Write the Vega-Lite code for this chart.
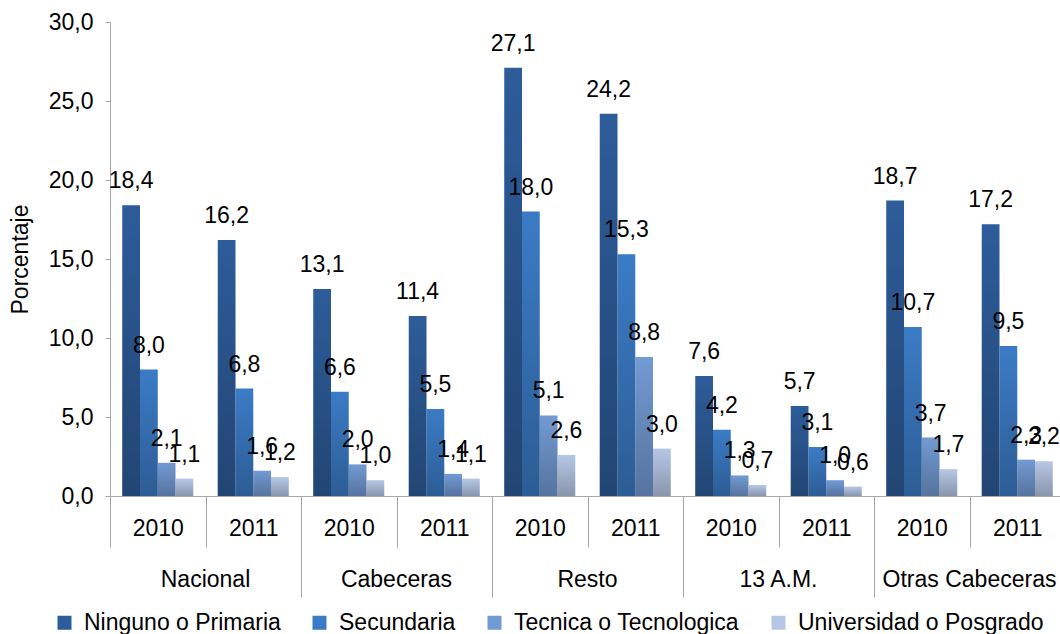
{
  "$schema": "https://vega.github.io/schema/vega-lite/v6.json",
  "padding": {"left": 9, "top": 11, "right": 0, "bottom": 0},
  "bounds": "flush",
  "config": {
    "locale": {"number": {"decimal": ",", "thousands": ".", "grouping": [3], "currency": ["", ""]}},
    "view": {"stroke": null},
    "font": "Liberation Sans"
  },
  "data": {"values": [
    {"grupo": "Nacional", "anio": "2010", "serie": "Ninguno o Primaria", "valor": 18.4},
    {"grupo": "Nacional", "anio": "2010", "serie": "Secundaria", "valor": 8.0},
    {"grupo": "Nacional", "anio": "2010", "serie": "Tecnica o Tecnologica", "valor": 2.1},
    {"grupo": "Nacional", "anio": "2010", "serie": "Universidad o Posgrado", "valor": 1.1},
    {"grupo": "Nacional", "anio": "2011", "serie": "Ninguno o Primaria", "valor": 16.2},
    {"grupo": "Nacional", "anio": "2011", "serie": "Secundaria", "valor": 6.8},
    {"grupo": "Nacional", "anio": "2011", "serie": "Tecnica o Tecnologica", "valor": 1.6},
    {"grupo": "Nacional", "anio": "2011", "serie": "Universidad o Posgrado", "valor": 1.2},
    {"grupo": "Cabeceras", "anio": "2010", "serie": "Ninguno o Primaria", "valor": 13.1},
    {"grupo": "Cabeceras", "anio": "2010", "serie": "Secundaria", "valor": 6.6},
    {"grupo": "Cabeceras", "anio": "2010", "serie": "Tecnica o Tecnologica", "valor": 2.0},
    {"grupo": "Cabeceras", "anio": "2010", "serie": "Universidad o Posgrado", "valor": 1.0},
    {"grupo": "Cabeceras", "anio": "2011", "serie": "Ninguno o Primaria", "valor": 11.4},
    {"grupo": "Cabeceras", "anio": "2011", "serie": "Secundaria", "valor": 5.5},
    {"grupo": "Cabeceras", "anio": "2011", "serie": "Tecnica o Tecnologica", "valor": 1.4},
    {"grupo": "Cabeceras", "anio": "2011", "serie": "Universidad o Posgrado", "valor": 1.1},
    {"grupo": "Resto", "anio": "2010", "serie": "Ninguno o Primaria", "valor": 27.1},
    {"grupo": "Resto", "anio": "2010", "serie": "Secundaria", "valor": 18.0},
    {"grupo": "Resto", "anio": "2010", "serie": "Tecnica o Tecnologica", "valor": 5.1},
    {"grupo": "Resto", "anio": "2010", "serie": "Universidad o Posgrado", "valor": 2.6},
    {"grupo": "Resto", "anio": "2011", "serie": "Ninguno o Primaria", "valor": 24.2},
    {"grupo": "Resto", "anio": "2011", "serie": "Secundaria", "valor": 15.3},
    {"grupo": "Resto", "anio": "2011", "serie": "Tecnica o Tecnologica", "valor": 8.8},
    {"grupo": "Resto", "anio": "2011", "serie": "Universidad o Posgrado", "valor": 3.0},
    {"grupo": "13 A.M.", "anio": "2010", "serie": "Ninguno o Primaria", "valor": 7.6},
    {"grupo": "13 A.M.", "anio": "2010", "serie": "Secundaria", "valor": 4.2},
    {"grupo": "13 A.M.", "anio": "2010", "serie": "Tecnica o Tecnologica", "valor": 1.3},
    {"grupo": "13 A.M.", "anio": "2010", "serie": "Universidad o Posgrado", "valor": 0.7},
    {"grupo": "13 A.M.", "anio": "2011", "serie": "Ninguno o Primaria", "valor": 5.7},
    {"grupo": "13 A.M.", "anio": "2011", "serie": "Secundaria", "valor": 3.1},
    {"grupo": "13 A.M.", "anio": "2011", "serie": "Tecnica o Tecnologica", "valor": 1.0},
    {"grupo": "13 A.M.", "anio": "2011", "serie": "Universidad o Posgrado", "valor": 0.6},
    {"grupo": "Otras Cabeceras", "anio": "2010", "serie": "Ninguno o Primaria", "valor": 18.7},
    {"grupo": "Otras Cabeceras", "anio": "2010", "serie": "Secundaria", "valor": 10.7},
    {"grupo": "Otras Cabeceras", "anio": "2010", "serie": "Tecnica o Tecnologica", "valor": 3.7},
    {"grupo": "Otras Cabeceras", "anio": "2010", "serie": "Universidad o Posgrado", "valor": 1.7},
    {"grupo": "Otras Cabeceras", "anio": "2011", "serie": "Ninguno o Primaria", "valor": 17.2},
    {"grupo": "Otras Cabeceras", "anio": "2011", "serie": "Secundaria", "valor": 9.5},
    {"grupo": "Otras Cabeceras", "anio": "2011", "serie": "Tecnica o Tecnologica", "valor": 2.3},
    {"grupo": "Otras Cabeceras", "anio": "2011", "serie": "Universidad o Posgrado", "valor": 2.2}
  ]},
  "spacing": 0,
  "facet": {
    "column": {
      "field": "grupo", "type": "nominal",
      "sort": ["Nacional", "Cabeceras", "Resto", "13 A.M.", "Otras Cabeceras"],
      "header": {"title": null, "labelOrient": "bottom", "labelFontSize": 23, "labelFont": "Liberation Sans", "labelColor": "#000", "labelPadding": -29}
    }
  },
  "spec": {
    "width": 191,
    "height": 474,
    "encoding": {
      "x": {
        "field": "anio", "type": "nominal",
        "scale": {"paddingInner": 0, "paddingOuter": 0},
        "axis": {
          "title": null, "labelAngle": 0, "tickBand": "extent",
          "labelFontSize": 23, "labelColor": "#000", "labelFont": "Liberation Sans",
          "domainColor": "#a6a6a6", "tickColor": "#a6a6a6",
          "tickSize": {"condition": {"test": "datum.value === '2011'", "value": 101}, "value": 51},
          "labelPadding": {"condition": {"test": "datum.value === '2011'", "value": -80}, "value": -30}
        }
      },
      "xOffset": {
        "field": "serie", "type": "nominal",
        "sort": ["Ninguno o Primaria", "Secundaria", "Tecnica o Tecnologica", "Universidad o Posgrado"],
        "scale": {"paddingInner": 0, "paddingOuter": 0.69}
      },
      "y": {
        "field": "valor", "type": "quantitative",
        "scale": {"domain": [0, 30], "nice": false},
        "axis": {
          "title": "Porcentaje", "titleFontSize": 23, "titleFontWeight": "normal", "titleFont": "Liberation Sans", "titleColor": "#000",
          "values": [0, 5, 10, 15, 20, 25, 30], "format": ".1f",
          "grid": false, "labelFontSize": 23, "labelColor": "#000", "labelFont": "Liberation Sans",
          "domainColor": "#a6a6a6", "tickColor": "#a6a6a6", "tickSize": 5, "labelPadding": 12, "titlePadding": 16
        }
      }
    },
    "layer": [
      {
        "mark": {"type": "bar"},
        "encoding": {
          "color": {
            "field": "serie", "type": "nominal",
            "sort": ["Ninguno o Primaria", "Secundaria", "Tecnica o Tecnologica", "Universidad o Posgrado"],
            "scale": {"range": ["#2d5c9a", "#3b7bc6", "#729ad3", "#b6c7e6"]},
            "legend": {"orient": "none", "legendX": -57, "legendY": 589, "direction": "horizontal", "title": null, "labelFontSize": 23, "labelFont": "Liberation Sans", "labelColor": "#000", "symbolType": "square", "symbolSize": 196, "symbolStrokeWidth": 0, "columnPadding": 27, "labelLimit": 400, "labelOffset": 8}
          }
        }
      },
      {
        "mark": {"type": "bar", "fill": {"gradient": "linear", "x1": 0, "y1": 0, "x2": 0, "y2": 1, "stops": [{"offset": 0, "color": "rgba(0,0,0,0)"}, {"offset": 1, "color": "rgba(0,0,0,0.25)"}]}},
        "encoding": {}
      },
      {
        "mark": {"type": "text", "dy": -24, "fontSize": 23, "font": "Liberation Sans", "color": "#000"},
        "encoding": {
          "text": {"field": "valor", "type": "quantitative", "format": ".1f"}
        }
      }
    ]
  }
}
